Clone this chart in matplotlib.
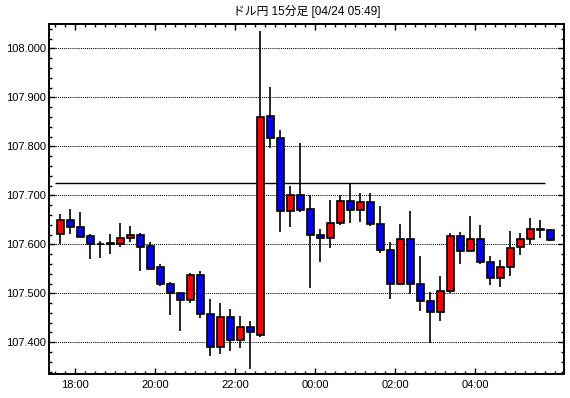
import numpy as np
import pandas as pd
import matplotlib
matplotlib.use('Agg')
import matplotlib.pyplot as plt
import matplotlib.dates as mdates
from matplotlib.ticker import MultipleLocator, FormatStrFormatter

plt.rcParams['font.family'] = ['Liberation Sans', 'Noto Sans CJK JP', 'DejaVu Sans']

# 15-minute candles, 17:30 -> 05:45 (USD/JPY)
start_time = '2019-04-23 17:30'
n_candles = 50

opens = [107.622, 107.649, 107.635, 107.616, 107.600, 107.600, 107.600, 107.612, 107.620, 107.596,
         107.553, 107.518, 107.501, 107.486, 107.537, 107.4585, 107.3905, 107.452, 107.405, 107.432,
         107.415, 107.861, 107.816, 107.667, 107.700, 107.673, 107.618, 107.612, 107.643, 107.688,
         107.671, 107.686, 107.641, 107.588, 107.518, 107.610, 107.518, 107.4837, 107.461, 107.504,
         107.616, 107.586, 107.610, 107.563, 107.5306, 107.553, 107.594, 107.610, 107.6306, 107.6286]
closes = [107.649, 107.635, 107.6156, 107.600, 107.600, 107.602, 107.612, 107.620, 107.595, 107.550,
          107.518, 107.501, 107.486, 107.537, 107.4585, 107.3905, 107.452, 107.405, 107.432, 107.421,
          107.859, 107.816, 107.667, 107.700, 107.669, 107.618, 107.612, 107.643, 107.688, 107.671,
          107.686, 107.641, 107.588, 107.520, 107.610, 107.518, 107.4837, 107.461, 107.504, 107.616,
          107.586, 107.610, 107.563, 107.5306, 107.553, 107.592, 107.610, 107.6306, 107.629, 107.608]
highs = [107.662, 107.672, 107.665, 107.621, 107.607, 107.621, 107.6435, 107.637, 107.623, 107.605,
         107.560, 107.523, 107.501, 107.5415, 107.545, 107.488, 107.480, 107.467, 107.4545, 107.4435,
         108.035, 107.921, 107.833, 107.719, 107.806, 107.700, 107.631, 107.690, 107.700, 107.7245,
         107.704, 107.704, 107.678, 107.604, 107.6415, 107.668, 107.5755, 107.502, 107.5356, 107.623,
         107.625, 107.658, 107.6395, 107.5755, 107.568, 107.627, 107.623, 107.6537, 107.6497, 107.6306]
lows = [107.600, 107.622, 107.614, 107.569, 107.573, 107.581, 107.595, 107.605, 107.546, 107.550,
        107.514, 107.456, 107.423, 107.480, 107.450, 107.372, 107.376, 107.383, 107.388, 107.346,
        107.411, 107.797, 107.626, 107.636, 107.665, 107.511, 107.5635, 107.592, 107.640, 107.643,
        107.645, 107.637, 107.582, 107.488, 107.516, 107.498, 107.4644, 107.3986, 107.444, 107.500,
        107.5605, 107.586, 107.5605, 107.5177, 107.5136, 107.536, 107.5776, 107.600, 107.612, 107.606]

ref_level = 107.7245
ref_start = '2019-04-23 17:30'
ref_end = '2019-04-24 05:45'

label_hours = [18, 20, 22, 0, 2, 4]
title = 'ドル円 15分足 [04/24 05:49]'

# ---- build ----
opens = np.array(opens); closes = np.array(closes)
highs = np.array(highs); lows = np.array(lows)
slot = 15 / 1440.0
t0 = mdates.date2num(pd.date_range(start_time, periods=n_candles, freq='15min').to_pydatetime())
xc = t0 + slot / 2

fig = plt.figure(figsize=(5.70, 3.98), dpi=100)
ax = fig.add_axes([49 / 570, 24 / 398, (564.3 - 49) / 570, (374 - 24.3) / 398])

up = closes >= opens
colors = np.where(up, '#ff0000', '#0000ff')
body_lo = np.minimum(opens, closes)
body_h = np.maximum(np.abs(closes - opens), 0.0012)

ax.hlines(ref_level, mdates.date2num(pd.Timestamp(ref_start)), mdates.date2num(pd.Timestamp(ref_end)),
          color='black', lw=1.0, zorder=2)
ax.vlines(xc, lows, highs, color='black', lw=1.2, zorder=3)
ax.bar(xc, body_h, bottom=body_lo, width=slot * 0.68, color=colors, edgecolor='black',
       linewidth=1.2, zorder=4)

ax.set_xlim(t0[0] + slot * (-0.63), t0[0] + slot * 50.9)
ax.set_ylim(107.3353, 108.049)

ax.yaxis.set_major_locator(MultipleLocator(0.1))
ax.yaxis.set_minor_locator(MultipleLocator(0.02))
ax.yaxis.set_major_formatter(FormatStrFormatter('%.3f'))
ax.xaxis.set_major_locator(mdates.HourLocator(byhour=label_hours))
ax.xaxis.set_minor_locator(mdates.MinuteLocator(byminute=[0, 15, 30, 45]))
ax.xaxis.set_major_formatter(mdates.DateFormatter('%H:%M'))

ax.grid(axis='y', which='major', color='black', linestyle=(0, (1, 1)), linewidth=0.75)
ax.tick_params(which='both', direction='in', top=True, right=True, colors='black',
               labelsize=8, width=1)
ax.tick_params(which='major', length=4, pad=2)
ax.tick_params(which='minor', length=2.5)
ax.tick_params(axis='x', pad=4)
for s in ax.spines.values():
    s.set_linewidth(1.4)

fig.text(0.539, 0.97, title, ha='center', va='center', fontsize=8.5)

fig.savefig('out.png', dpi=100)
